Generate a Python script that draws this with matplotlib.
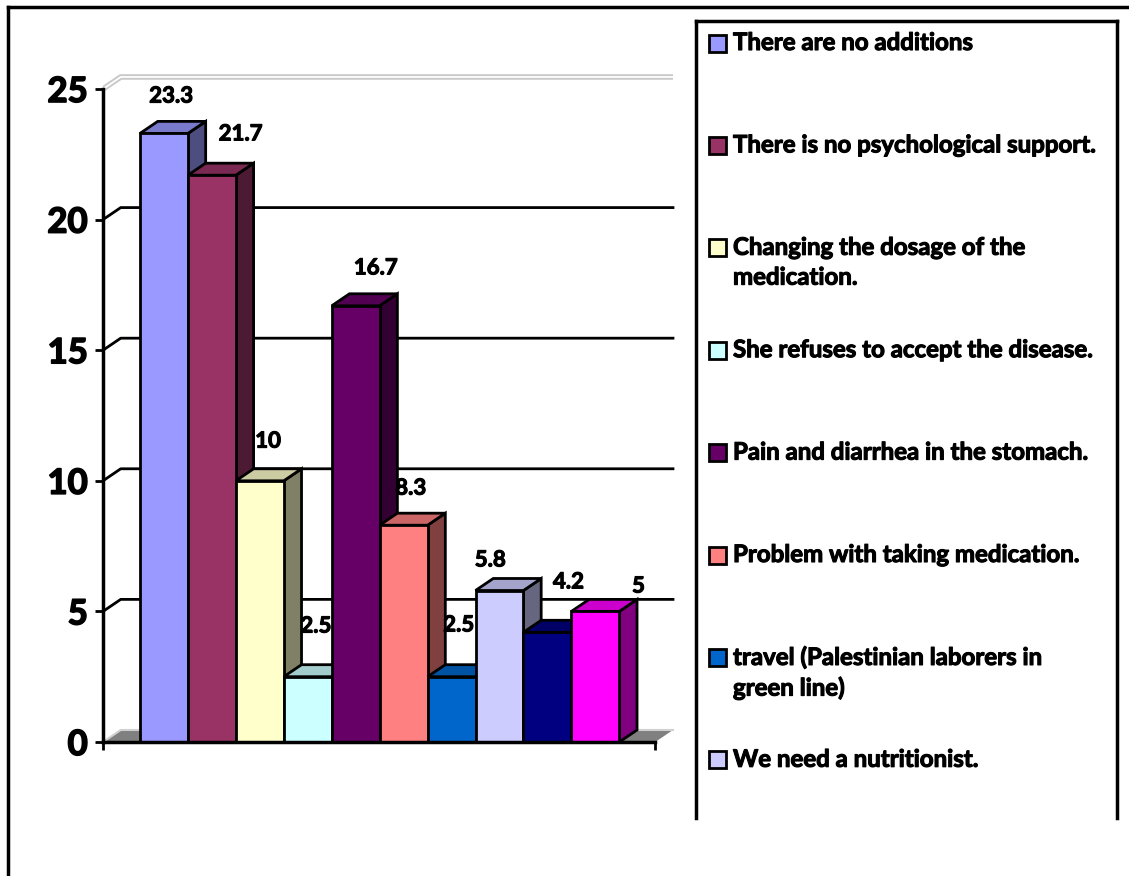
import matplotlib.pyplot as plt
import matplotlib.patheffects as pe
import numpy as np
from matplotlib.patches import Polygon, Rectangle
from matplotlib.lines import Line2D

plt.rcParams['font.family'] = ['Lato', 'DejaVu Sans']

values = [23.3, 21.7, 10, 2.5, 16.7, 8.3, 2.5, 5.8, 4.2, 5]
colors = ["#9999FF", "#993366", "#FFFFCC", "#CCFFFF", "#660066",
          "#FF8080", "#0066CC", "#CCCCFF", "#000080", "#FF00FF"]
legend_labels = [
    "There are no additions",
    "There is no psychological support.",
    "Changing the dosage of the\nmedication.",
    "She refuses to accept the disease.",
    "Pain and diarrhea in the stomach.",
    "Problem with taking medication.",
    "travel (Palestinian laborers in\ngreen line)",
    "We need a nutritionist.",
]
yticks = [0, 5, 10, 15, 20, 25]

# label nudges (x in bar widths, y in value units) -- excel's 3d placement
lab_dx = [0.15, 0.6, 0.17, 0.17, 0.42, 0.15, 0.15, -0.19, 0.44, 0.9]
lab_dy = [1.43, 1.58, 1.52, 1.94, 1.45, 1.42, 1.98, 1.17, 1.93, 0.97]

DX, DY = 0.37, 0.46      # depth offset of the 3d effect
X0, XR = -0.772, 10.75   # floor front edge
HEAVY = [pe.withStroke(linewidth=0.8, foreground="black")]  # calibri bold is heavier than lato


def shade(c, f):
    r, g, b = plt.matplotlib.colors.to_rgb(c)
    return (r * f, g * f, b * f)


fig = plt.figure(figsize=(11.29, 8.76), dpi=100)
W, H = 1129, 876
ax = fig.add_axes([103 / W, 134 / H, 577 / W, 672 / H])
ax.set_xlim(X0, X0 + 577 / 47.93)
ax.set_ylim(0, 672 / 26.12)
ax.patch.set_alpha(0)

# floor
ax.add_patch(Polygon([(X0, 0), (XR, 0), (XR + DX, DY), (X0 + DX, DY)],
                     closed=True, facecolor="#808080", edgecolor="none", zorder=1))
ax.plot([X0, X0 + DX, XR + DX], [0, DY, DY], color="#D0D0D0", lw=1.5, zorder=1.5)

# back wall gridlines + side wall diagonals
for v in yticks[1:]:
    if v == yticks[-1]:
        for lw, c in [(4, "#C8C8C8"), (1.3, "white")]:
            ax.plot([X0, X0 + DX, XR + DX], [v, v + DY, v + DY], color=c, lw=lw,
                    zorder=1, solid_capstyle="butt")
    else:
        ax.plot([X0, X0 + DX, XR + DX], [v, v + DY, v + DY], color="black", lw=2, zorder=1)

# bars
for i, (v, c) in enumerate(zip(values, colors)):
    z = 3 + i * 0.01
    ax.add_patch(Polygon([(i + 1, 0), (i + 1 + DX, DY), (i + 1 + DX, v + DY), (i + 1, v)],
                         closed=True, facecolor=shade(c, 0.5), edgecolor="black",
                         lw=2, joinstyle="miter", zorder=z))
    ax.add_patch(Polygon([(i, v), (i + 1, v), (i + 1 + DX, v + DY), (i + DX, v + DY)],
                         closed=True, facecolor=shade(c, 0.8), edgecolor="black",
                         lw=2, joinstyle="miter", zorder=z))
    ax.add_patch(Rectangle((i, 0), 1, v, facecolor=c, edgecolor="black",
                           lw=2, joinstyle="miter", zorder=z))
    ax.text(i + 0.5 + lab_dx[i], v + lab_dy[i], f"{v:g}", ha="center", va="center",
            fontsize=16, fontweight="bold", zorder=5, path_effects=HEAVY)

# axes lines
for s in ["top", "right"]:
    ax.spines[s].set_visible(False)
ax.spines["left"].set_bounds(0, 25)
ax.spines["bottom"].set_bounds(X0, XR)
for s in ["left", "bottom"]:
    ax.spines[s].set_linewidth(2.5)
    ax.spines[s].set_zorder(6)
ax.set_yticks(yticks)
ax.set_yticklabels([str(t) for t in yticks], fontsize=25, fontweight="bold")
for t in ax.get_yticklabels():
    t.set_path_effects([pe.withStroke(linewidth=1.2, foreground="black")])
ax.set_xticks([X0, XR])
ax.set_xticklabels([])
ax.tick_params(axis="both", direction="out", length=6, width=2, pad=5)

# legend box (cut off at the bottom like the source)
lax = fig.add_axes([696 / W, 58 / H, 421 / W, 797 / H])
lax.set_xlim(0, 421)
lax.set_ylim(797, 0)
lax.set_xticks([])
lax.set_yticks([])
lax.spines["bottom"].set_visible(False)
for s in ["left", "top", "right"]:
    lax.spines[s].set_linewidth(2.5)
for k, lab in enumerate(legend_labels):
    yc = 22 + 102.4 * k
    lax.add_patch(Rectangle((13, yc - 8.5), 17, 17, facecolor=colors[k],
                            edgecolor="black", lw=2))
    lax.text(37, yc - 12, lab, ha="left", va="top", fontsize=17.3,
             fontweight="bold", linespacing=1.36, path_effects=HEAVY)

# outer chart border
fig.add_artist(Line2D([8 / W, 1.0], [1 - 7 / H, 1 - 7 / H], color="black", lw=2.5))
fig.add_artist(Line2D([8 / W, 8 / W], [0, 1 - 7 / H], color="black", lw=2.5))

fig.savefig("out.png", dpi=100)
